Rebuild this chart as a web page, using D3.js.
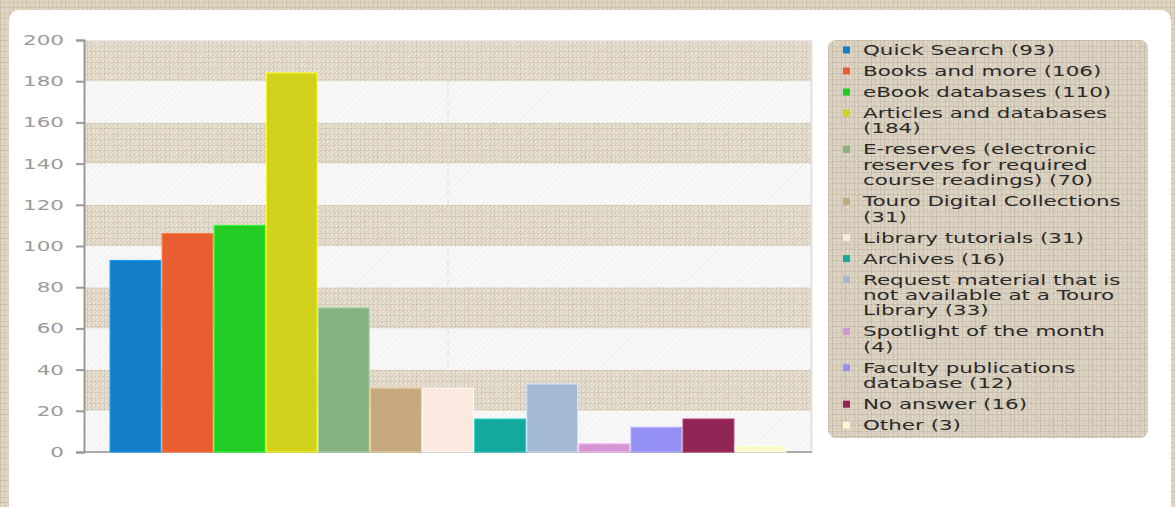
<!DOCTYPE html>
<html>
<head>
<meta charset="utf-8">
<script src="https://cdn.jsdelivr.net/npm/d3@7"></script>
<style>
  body { margin: 0; background: #dcd1bc; }
  svg { display: block; }
  text { font-family: "DejaVu Sans", Verdana, sans-serif; }
</style>
</head>
<body>
<svg id="chart" width="1175" height="507"></svg>
<script>
/* Survey answers: which library resources were used */
let categories = [
    'Quick Search', 'Books and more', 'eBook databases', 'Articles and databases',
    'E-reserves (electronic reserves for required course readings)',
    'Touro Digital Collections', 'Library tutorials', 'Archives',
    'Request material that is not available at a Touro Library',
    'Spotlight of the month', 'Faculty publications database', 'No answer', 'Other'
];
let counts = [93, 106, 110, 184, 70, 31, 31, 16, 33, 4, 12, 16, 3];
let colors = ['#127fc8', '#e85e30', '#21cd24', '#d2d21c', '#86b282', '#c6a87e', '#fbe8de',
              '#15a89e', '#a4b9d4', '#d497d4', '#9490f4', '#912556', '#f8f8c8'];
let yTicks = [0, 20, 40, 60, 80, 100, 120, 140, 160, 180, 200];

/* the original picture is stretched sideways, so text is widened too */
let stretchX = 1.53;

let svg = d3.select('#chart');
let defs = svg.append('defs');

/* linen-like textures */
function linen(id, base, line, hatch) {
    let p = defs.append('pattern').attr('id', id)
        .attr('patternUnits', 'userSpaceOnUse').attr('width', 13).attr('height', 11);
    p.append('rect').attr('width', 13).attr('height', 11).attr('fill', base);
    [[0, 0.16], [4, 0.08], [9, 0.13]].forEach(([x, o]) =>
        p.append('rect').attr('x', x).attr('y', 0).attr('width', 1).attr('height', 11)
            .attr('fill', line).attr('opacity', o));
    [[2, 0.1], [7, 0.15]].forEach(([y, o]) =>
        p.append('rect').attr('x', 0).attr('y', y).attr('width', 13).attr('height', 1)
            .attr('fill', line).attr('opacity', o));
    [[5, 1], [11, 6], [2, 9]].forEach(([x, y]) =>
        p.append('rect').attr('x', x).attr('y', y).attr('width', 1).attr('height', 1)
            .attr('fill', '#fffaf0').attr('opacity', 0.7));
    if (hatch) {
        let h = defs.append('pattern').attr('id', id + '-h')
            .attr('patternUnits', 'userSpaceOnUse').attr('width', 3).attr('height', 3)
            .attr('patternTransform', 'rotate(45)');
        h.append('rect').attr('width', 1).attr('height', 3).attr('fill', hatch);
    }
}
linen('outer', '#dfd4bf', '#7a6a50', null);
linen('legendTex', '#dad1c0', '#6f6250', null);
linen('band', '#ebe3d4', '#8a7a62', 'rgba(125,110,90,0.2)');

let faint = defs.append('pattern').attr('id', 'faint')
    .attr('patternUnits', 'userSpaceOnUse').attr('width', 4).attr('height', 4)
    .attr('patternTransform', 'rotate(45)');
faint.append('rect').attr('width', 4).attr('height', 4).attr('fill', '#f8f8f8');
faint.append('rect').attr('width', 1).attr('height', 4).attr('fill', 'rgba(0,0,0,0.03)');

/* background and white panel */
svg.append('rect').attr('width', 1175).attr('height', 507).attr('fill', 'url(#outer)');
svg.append('rect').attr('x', 9).attr('y', 10).attr('width', 1162).attr('height', 520)
    .attr('rx', 10).attr('fill', '#fff');

let plot = {left: 84, right: 812, top: 40, bottom: 452};

let x = d3.scaleBand()
    .domain(categories)
    .range([plot.left, plot.right])
    .paddingInner(0.025)
    .paddingOuter(0.5);

let y = d3.scaleLinear()
    .domain([0, 200])
    .range([plot.bottom, plot.top]);

/* alternating bands */
let bandTicks = yTicks.slice(0, -1);
svg.append('g')
    .selectAll('g')
    .data(bandTicks)
    .enter()
    .append('g')
    .each(function(t, i) {
        let g = d3.select(this);
        let top = y(t + 20), h = y(t) - y(t + 20);
        if (i % 2 === 1) {
            g.append('rect').attr('x', plot.left).attr('y', top)
                .attr('width', plot.right - plot.left).attr('height', h).attr('fill', 'url(#band)');
            g.append('rect').attr('x', plot.left).attr('y', top)
                .attr('width', plot.right - plot.left).attr('height', h).attr('fill', 'url(#band-h)');
        } else {
            g.append('rect').attr('x', plot.left).attr('y', top)
                .attr('width', plot.right - plot.left).attr('height', h).attr('fill', 'url(#faint)');
        }
    });

/* vertical dashed grid line in the middle */
svg.append('line')
    .attr('x1', (plot.left + plot.right) / 2).attr('x2', (plot.left + plot.right) / 2)
    .attr('y1', plot.top).attr('y2', plot.bottom)
    .attr('stroke', '#dcdcdc').attr('stroke-dasharray', '6,4');

/* plot frame */
svg.append('line').attr('x1', plot.left).attr('x2', plot.right)
    .attr('y1', plot.top + 0.5).attr('y2', plot.top + 0.5).attr('stroke', '#e6e6ec');
svg.append('line').attr('x1', plot.right - 0.5).attr('x2', plot.right - 0.5)
    .attr('y1', plot.top).attr('y2', plot.bottom).attr('stroke', '#e2e2e6').attr('stroke-width', 2);
svg.append('line').attr('x1', plot.left).attr('x2', plot.right)
    .attr('y1', plot.bottom).attr('y2', plot.bottom).attr('stroke', '#aaa').attr('stroke-width', 2);

/* bars */
svg.append('g')
    .selectAll('rect')
    .data(categories)
    .enter()
    .append('rect')
    .attr('x', d => x(d))
    .attr('y', (d, i) => y(counts[i]))
    .attr('width', x.bandwidth())
    .attr('height', (d, i) => y(0) - y(counts[i]))
    .attr('fill', (d, i) => colors[i])
    .attr('stroke', (d, i) => d3.color(colors[i]).brighter(0.6))
    .attr('stroke-width', 1);

/* y axis */
let yAxis = svg.append('g')
    .attr('transform', `translate(${plot.left},0)`)
    .call(d3.axisLeft(y).tickValues(yTicks).tickSize(8).tickPadding(12));
yAxis.select('.domain').attr('stroke', '#999').attr('stroke-width', 2);
yAxis.selectAll('.tick line').attr('stroke', '#999').attr('stroke-width', 2);
yAxis.selectAll('.tick text')
    .attr('fill', '#9a9a9a')
    .style('font-size', '14px')
    .style('font-family', '"DejaVu Sans", Verdana, sans-serif');

/* widen text the way the picture does */
function stretch(sel) {
    sel.each(function() {
        let w = this.getComputedTextLength();
        d3.select(this).attr('textLength', w * stretchX).attr('lengthAdjust', 'spacingAndGlyphs');
    });
}
stretch(yAxis.selectAll('.tick text'));

/* legend */
let legend = {left: 828, top: 40, width: 320, height: 398};
svg.append('rect')
    .attr('x', legend.left).attr('y', legend.top)
    .attr('width', legend.width).attr('height', legend.height)
    .attr('rx', 8).attr('fill', 'url(#legendTex)');

let textX = 863, maxLine = 268, lineH = 15.4, gap = 21;
let measure = svg.append('text').style('font-size', '14px');
function wrap(str) {
    let words = str.split(' '), lines = [], cur = '';
    words.forEach(w => {
        let test = cur ? cur + ' ' + w : w;
        measure.text(test);
        if (cur && measure.node().getComputedTextLength() * stretchX > maxLine) {
            lines.push(cur);
            cur = w;
        } else {
            cur = test;
        }
    });
    lines.push(cur);
    return lines;
}

let cy = 50;
let items = categories.map((c, i) => {
    let lines = wrap(`${c} (${counts[i]})`);
    let item = {lines: lines, y: cy, color: colors[i]};
    cy += (lines.length - 1) * lineH + gap;
    return item;
});
measure.remove();

let leg = svg.append('g');
items.forEach(it => {
    leg.append('rect')
        .attr('x', 843).attr('y', it.y - 3.5)
        .attr('width', 7).attr('height', 7)
        .attr('fill', it.color);
    it.lines.forEach((l, j) => {
        leg.append('text')
            .attr('x', textX).attr('y', it.y + j * lineH)
            .attr('dy', '0.36em')
            .attr('fill', '#2a2a2a')
            .style('font-size', '14px')
            .text(l);
    });
});
stretch(leg.selectAll('text'));
</script>
</body>
</html>
